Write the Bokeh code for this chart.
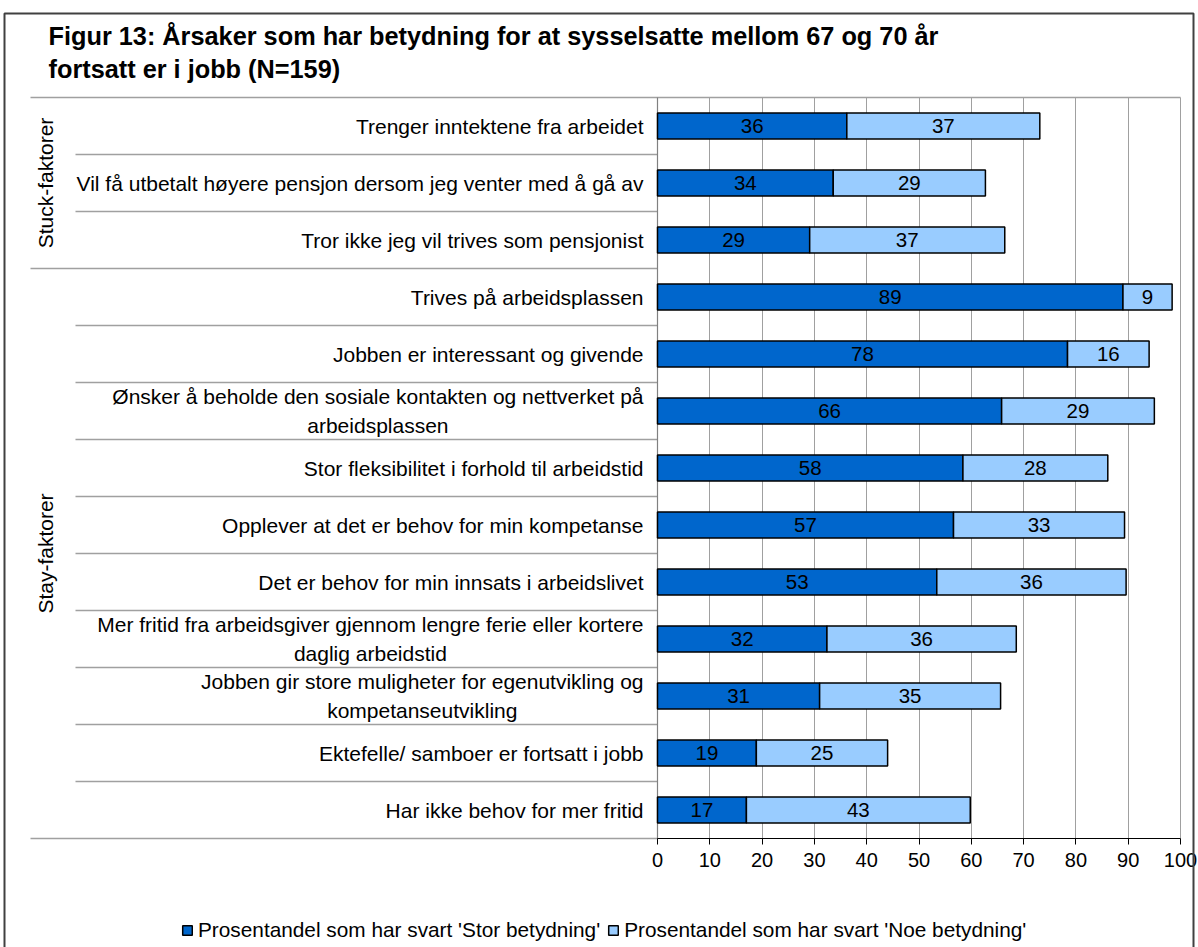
from math import pi
from bokeh.plotting import figure
from bokeh.models import (Range1d, FixedTicker, Legend, LegendItem,
                          ColumnDataSource, PolyAnnotation)
from bokeh.core.properties import value
from bokeh.embed import file_html
from bokeh.resources import INLINE

# ---------------- data ----------------
title_lines = [
    "Figur 13: Årsaker som har betydning for at sysselsatte mellom 67 og 70 år",
    "fortsatt er i jobb (N=159)",
]
categories = [
    "Trenger inntektene fra arbeidet",
    "Vil få utbetalt høyere pensjon dersom jeg venter med å gå av",
    "Tror ikke jeg vil trives som pensjonist",
    "Trives på arbeidsplassen",
    "Jobben er interessant og givende",
    "Ønsker å beholde den sosiale kontakten og nettverket på\narbeidsplassen",
    "Stor fleksibilitet i forhold til arbeidstid",
    "Opplever at det er behov for min kompetanse",
    "Det er behov for min innsats i arbeidslivet",
    "Mer fritid fra arbeidsgiver gjennom lengre ferie eller kortere\ndaglig arbeidstid",
    "Jobben gir store muligheter for egenutvikling og\nkompetanseutvikling",
    "Ektefelle/ samboer er fortsatt i jobb",
    "Har ikke behov for mer fritid",
]
groups = ["Stuck-faktorer", "Stay-faktorer"]
group_sizes = [3, 10]
stor = [36.2, 33.6, 29.1, 89.0, 78.4, 65.8, 58.4, 56.6, 53.4, 32.4, 31.0, 18.9, 17.0]
noe = [36.9, 29.1, 37.3, 9.4, 15.6, 29.2, 27.7, 32.7, 36.2, 36.2, 34.6, 25.1, 42.8]
series_names = [
    "Prosentandel som har svart 'Stor betydning'",
    "Prosentandel som har svart 'Noe betydning'",
]
x_ticks = [0, 10, 20, 30, 40, 50, 60, 70, 80, 90, 100]

# ---------------- layout / style ----------------
W, H = 1198, 947
FL, FR, FT, FB = 657, 1180, 97, 838          # plot area in canvas pixels
FONT_NAME = "Liberation Sans"
FONT = value(FONT_NAME)
DARK, LIGHT = "#0066CC", "#99CCFF"
GRID = "#a0a0a0"

n = len(categories)
SX = (FR - FL) / 100.0          # px per value unit
RH = (FB - FT) / n              # px per row


def px_x(px):  # canvas px -> x data
    return (px - FL) / SX


def px_y(py):  # canvas px -> y data (rows, 0 at top of plot area)
    return (py - FT) / RH


ys = [i + 0.5 for i in range(n)]
total = [a + b for a, b in zip(stor, noe)]
src = ColumnDataSource(dict(
    y=ys, stor=stor, total=total,
    c1=[a / 2 for a in stor], c2=[a + b / 2 for a, b in zip(stor, noe)],
    l1=[str(int(round(a))) for a in stor], l2=[str(int(round(b))) for b in noe],
))

p = figure(width=W, height=H,
           x_range=Range1d(px_x(0), px_x(W)), y_range=Range1d(px_y(H), px_y(0)),
           output_backend="svg", toolbar_location=None,
           min_border_left=0, min_border_right=0, min_border_top=0, min_border_bottom=0)
p.background_fill_color = "white"
p.border_fill_color = "white"
p.outline_line_color = None
p.yaxis.visible = False
p.ygrid.grid_line_color = None

# x axis at the bottom of the plot area
p.xaxis.fixed_location = n
p.xaxis.bounds = (0, 100)
p.xaxis.ticker = FixedTicker(ticks=x_ticks)
p.xaxis.axis_line_color = "black"
p.xaxis.major_tick_line_color = "black"
p.xaxis.major_tick_out = 6
p.xaxis.major_tick_in = 0
p.xaxis.minor_tick_line_color = None
p.xaxis.major_label_text_font = FONT_NAME
p.xaxis.major_label_text_font_size = "20px"
p.xaxis.major_label_text_color = "black"
p.xaxis.major_label_standoff = 8
p.xgrid.ticker = FixedTicker(ticks=x_ticks)
p.xgrid.grid_line_color = GRID
p.xgrid.cross_bounds = (0, n)
p.xgrid.bounds = (0, 100)

# row separators (longer at group boundaries) + top edge of plot area
bounds = [0]
for g in group_sizes:
    bounds.append(bounds[-1] + g)
sep_y = list(range(n + 1))
sep_x0 = [px_x(30) if b in bounds else px_x(75) for b in sep_y]
sep_x1 = [100 if b == 0 else 0 for b in sep_y]
p.segment(x0=sep_x0, y0=sep_y, x1=sep_x1, y1=sep_y, line_color=GRID, line_width=1.5)
# left edge of plot area
p.segment(x0=[0], y0=[0], x1=[0], y1=[n], line_color="#808080", line_width=1.2)

# bars
r1 = p.hbar(y="y", left=0, right="stor", height=0.46, source=src,
            fill_color=DARK, line_color="black", line_width=1.5)
r2 = p.hbar(y="y", left="stor", right="total", height=0.46, source=src,
            fill_color=LIGHT, line_color="black", line_width=1.5)
for cx, lab in (("c1", "l1"), ("c2", "l2")):
    p.text(x=cx, y="y", text=lab, source=src, text_align="center",
           text_baseline="middle", text_font=FONT, text_font_size="20.5px",
           text_color="black")

# category labels
single = [i for i, c in enumerate(categories) if "\n" not in c]
multi = [i for i, c in enumerate(categories) if "\n" in c]
p.text(x=[px_x(643)] * len(single), y=[ys[i] for i in single],
       text=[categories[i] for i in single], text_align="right",
       text_baseline="middle", text_font=FONT, text_font_size="21px",
       text_color="black")
try:
    p.text(x=[px_x(643)] * len(multi), y=[ys[i] for i in multi],
           text=[categories[i] for i in multi], text_align="center",
           anchor="center_right", text_baseline="middle", text_font=FONT,
           text_font_size="21px", text_color="black", text_line_height=1.25)
except Exception:
    p.text(x=[px_x(643)] * len(multi), y=[ys[i] for i in multi],
           text=[categories[i] for i in multi], text_align="right",
           text_baseline="middle", text_font=FONT,
           text_font_size="21px", text_color="black", text_line_height=1.25)

# group labels
gy, start = [], 0
for sz in group_sizes:
    gy.append(start + sz / 2)
    start += sz
p.text(x=[px_x(45)] * len(groups), y=gy, text=groups, angle=pi / 2,
       text_align="center", text_baseline="middle", text_font=FONT,
       text_font_size="21px", text_color="black")

# title
p.text(x=[px_x(48)] * len(title_lines), y=[px_y(35), px_y(68)], text=title_lines,
       text_align="left", text_baseline="middle", text_font=FONT,
       text_font_size="25.3px", text_font_style="bold", text_color="black")

# legend
legend = Legend(items=[LegendItem(label=series_names[0], renderers=[r1]),
                       LegendItem(label=series_names[1], renderers=[r2])],
                orientation="horizontal", location=(181, H - 942),
                glyph_width=12, glyph_height=12, label_standoff=5, spacing=7,
                padding=0, margin=0, border_line_color=None,
                background_fill_alpha=0, label_text_font=FONT_NAME,
                label_text_font_size="20.8px", label_text_color="black")
p.add_layout(legend)

# outer frame of the chart
p.add_layout(PolyAnnotation(xs=[4, 1193, 1193, 4], ys=[H - 13, H - 13, -50, -50],
                            xs_units="screen", ys_units="screen",
                            fill_alpha=0, line_alpha=1.0,
                            line_color="#404040", line_width=2))

open("out.html", "w").write(file_html(p, INLINE))
